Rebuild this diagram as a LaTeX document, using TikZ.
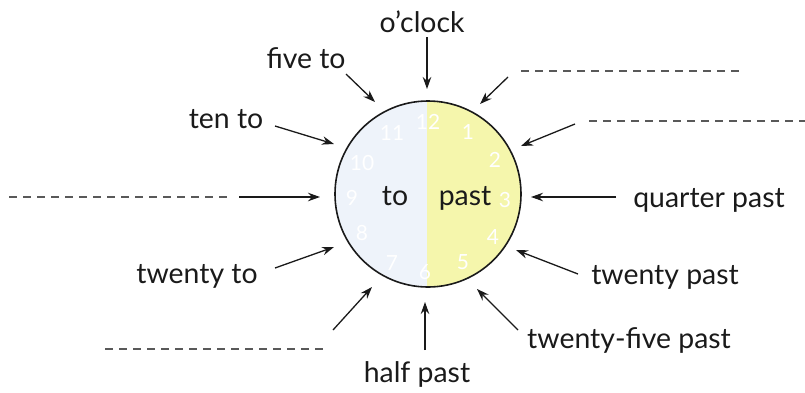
\documentclass[tikz,border=0pt]{standalone}
\usepackage{fontspec}
\setmainfont{Lato}
\usetikzlibrary{arrows.meta}
\definecolor{tohalf}{HTML}{EEF3FA}
\definecolor{pasthalf}{HTML}{F5F6AC}
\definecolor{ink}{HTML}{1A1A1A}
\begin{document}
\begin{tikzpicture}[x=1bp,y=-1bp,
  lbl/.style={font=\fontsize{28.5}{31}\selectfont, inner sep=0pt, text=ink, anchor=base},
  num/.style={font=\fontsize{21}{23}\selectfont, text=white, inner sep=0pt},
  arr/.style={line width=1.3bp, draw=ink, -{Stealth[length=12bp,width=8.5bp]}},
  blank/.style={dash pattern=on 8bp off 6bp, line width=1.2bp, draw=black!65}]
\useasboundingbox (0,0) rectangle (805,392);
% clock face
\coordinate (c) at (428,194);
\begin{scope}
  \clip (c) circle[radius=93];
  \fill[tohalf] (300,80) rectangle (427,310);
  \fill[pasthalf] (427,80) rectangle (560,310);
\end{scope}
\node[circle, draw=ink, line width=1.6bp, minimum size=186bp, inner sep=0pt] (clock) at (c) {};
% faint numbers
\node[num] (n12) at (428,122) {12};
\node[num] (n1) at (468,132) {1};
\node[num] (n2) at (495,160) {2};
\node[num] (n3) at (505,200) {3};
\node[num] (n4) at (493,237) {4};
\node[num] (n5) at (463,262) {5};
\node[num] (n6) at (425,272) {6};
\node[num] (n7) at (392,263) {7};
\node[num] (n8) at (362,233) {8};
\node[num] (n9) at (352,198) {9};
\node[num] (n10) at (362,163) {10};
\node[num] (n11) at (392,133) {11};
% halves
\node[lbl] (to) at (395,205) {to};
\node[lbl] (past) at (465,205) {past};
% labels
\node[lbl] (oclock) at (422,32) {o’clock};
\node[lbl] (fiveto) at (306,68) {five to};
\node[lbl] (tento) at (226,128) {ten to};
\node[lbl] (twentyto) at (197,283) {twenty to};
\node[lbl] (halfpast) at (417,382) {half past};
\node[lbl] (tfpast) at (629,348) {twenty-five past};
\node[lbl] (twpast) at (665,284) {twenty past};
\node[lbl] (qpast) at (709,207) {quarter past};
% arrow ends
\coordinate (s12) at (427,37);   \coordinate (t12) at (427,89);
\coordinate (s1) at (508,77);    \coordinate (t1) at (480,104);
\coordinate (s2) at (575,124);   \coordinate (t2) at (521,146);
\coordinate (s3) at (616,197);   \coordinate (t3) at (531,197);
\coordinate (s4) at (578,274);   \coordinate (t4) at (516,250);
\coordinate (s5) at (518,330);   \coordinate (t5) at (477,289);
\coordinate (s6) at (425,350);   \coordinate (t6) at (425,302);
\coordinate (s7) at (333,330);   \coordinate (t7) at (372,287);
\coordinate (s8) at (275,268);   \coordinate (t8) at (334,247);
\coordinate (s9) at (239,197);   \coordinate (t9) at (320,197);
\coordinate (s10) at (275,126);  \coordinate (t10) at (334,144);
\coordinate (s11) at (346,74);   \coordinate (t11) at (375,102);
\foreach \i in {1,...,12} { \draw[arr] (s\i) -- (t\i); }
% blank answer lines
\coordinate (b1a) at (521,71);  \coordinate (b1b) at (740,71);
\coordinate (b2a) at (589,121); \coordinate (b2b) at (805,121);
\coordinate (b9a) at (9,197);   \coordinate (b9b) at (228,197);
\coordinate (b7a) at (105,349); \coordinate (b7b) at (324,349);
\draw[blank] (b1a) -- (b1b);
\draw[blank] (b2a) -- (b2b);
\draw[blank] (b9a) -- (b9b);
\draw[blank] (b7a) -- (b7b);
\end{tikzpicture}
\end{document}
